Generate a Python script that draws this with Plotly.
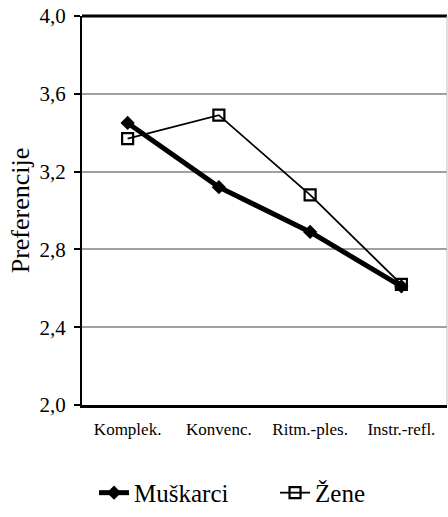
import plotly.graph_objects as go

categories = ["Komplek.", "Konvenc.", "Ritm.-ples.", "Instr.-refl."]
muskarci = [3.45, 3.12, 2.89, 2.61]
zene = [3.37, 3.49, 3.08, 2.62]
y_ticks = [2.0, 2.4, 2.8, 3.2, 3.6, 4.0]

font = "Times New Roman, Liberation Serif, serif"

fig = go.Figure()
fig.add_trace(go.Scatter(
    x=categories, y=muskarci, name="Muškarci", mode="lines+markers",
    line=dict(color="black", width=5),
    marker=dict(symbol="diamond", size=11, color="black"),
))
fig.add_trace(go.Scatter(
    x=categories, y=zene, name="Žene", mode="lines+markers",
    line=dict(color="black", width=1.8),
    marker=dict(symbol="square-open", size=11, color="black", line=dict(width=2.2)),
))

fig.update_layout(
    width=448, height=517,
    margin=dict(l=82, r=1, t=16, b=112, autoexpand=False),
    paper_bgcolor="white", plot_bgcolor="white",
    separators=",.",
    font=dict(family=font, color="black"),
    showlegend=True,
    legend=dict(orientation="h", x=0.033, xanchor="left",
                y=-0.226, yanchor="middle",
                font=dict(size=25, family=font, color="black"),
                entrywidth=136, entrywidthmode="pixels",
                bgcolor="rgba(0,0,0,0)"),
    xaxis=dict(
        type="category", range=[-0.5, 3.5],
        showline=True, linecolor="black", linewidth=3,
        showgrid=False, ticks="", tickfont=dict(size=17, family=font, color="black"),
        ticklabelstandoff=7, tickangle=0,
    ),
    yaxis=dict(
        range=[2.0, 4.0], tickvals=y_ticks, tickformat=".1f",
        showline=True, linecolor="black", linewidth=2,
        ticks="outside", ticklen=6, tickwidth=2, tickcolor="black",
        showgrid=True, gridcolor="#a0a0a0", gridwidth=2,
        zeroline=False,
        tickfont=dict(size=21, family=font, color="black"),
        ticklabelstandoff=4,
        title=dict(text="Preferencije", font=dict(size=26, family=font, color="black"), standoff=2),
    ),
    shapes=[
        dict(type="line", xref="paper", yref="paper", x0=0, x1=1, y0=1, y1=1,
             line=dict(color="black", width=3)),
        dict(type="line", xref="paper", yref="paper", x0=1, x1=1, y0=0, y1=1,
             line=dict(color="#c0c0c0", width=1)),
    ],
)

fig.write_html("out.html", config={"displayModeBar": False},
               post_script="document.body.style.margin='0';")
